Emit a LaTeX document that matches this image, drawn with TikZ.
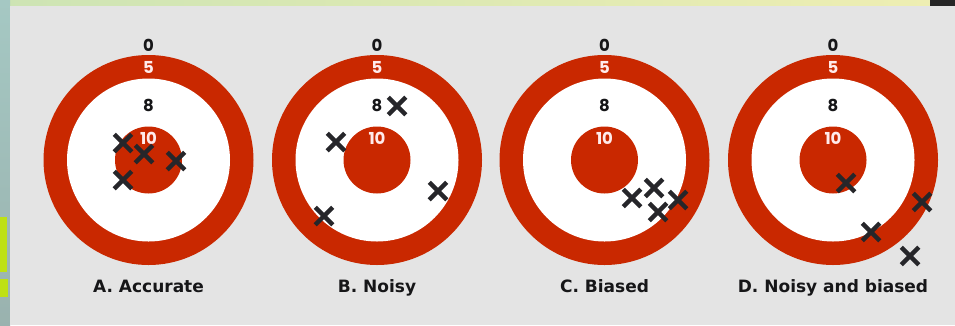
\documentclass[tikz,border=0pt]{standalone}
\usepackage{fontspec}
\setmainfont{Poppins}
\newfontfamily\capfont{DejaVu Sans}
\usetikzlibrary{shapes.misc}
\definecolor{targetred}{RGB}{201,40,0}
\definecolor{panelgray}{RGB}{228,228,228}
\definecolor{hitcol}{RGB}{38,38,42}
\definecolor{inkcol}{RGB}{22,22,24}
\definecolor{leafgreen}{RGB}{205,228,180}
\definecolor{leafyellow}{RGB}{238,238,178}
\definecolor{leafteal}{RGB}{165,200,195}
\definecolor{lime}{RGB}{190,225,20}
\tikzset{
  score/.style = {font=\bfseries\fontsize{16.5}{16.5}\selectfont, inner sep=0pt, text=inkcol},
  caption/.style = {font=\capfont\bfseries\fontsize{17}{17}\selectfont, inner sep=0pt, text=inkcol, anchor=base},
  hit/.style = {cross out, draw=hitcol, line width=4.5pt, minimum size=13pt, inner sep=0pt},
}
\begin{document}
\begin{tikzpicture}[x=1pt, y=-1pt]
\useasboundingbox (0,0) rectangle (955,325);
% background strips and panel
\shade[left color=leafgreen, right color=leafyellow] (0,0) rectangle (930,6);
\fill[black!85] (930,0) rectangle (955,6);
\shade[top color=leafteal, bottom color=leafteal!70!gray] (0,0) rectangle (10,325);
\fill[lime] (0,217) rectangle (7,272);
\fill[lime] (0,279) rectangle (8,297);
\fill[panelgray] (10,6) rectangle (955,325);
% targets
\foreach \t/\cx/\txt in {a/148.5/A. Accurate, b/377/B. Noisy, c/604.5/C. Biased, d/833/D. Noisy and biased}{
  \coordinate (t\t) at (\cx,160);
  \fill[targetred] (t\t) circle (105pt);
  \fill[white] (t\t) circle (81.5pt);
  \fill[targetred] (t\t) circle (33.5pt);
  \node[score] (zero\t) at (\cx,45) {0};
  \node[score, text=white!92!red] (five\t) at (\cx,67) {5};
  \node[score] (eight\t) at (\cx,105) {8};
  \node[score, text=white!92!red] (ten\t) at (\cx,138) {10};
  \node[caption] (cap\t) at (\cx,292) {\txt};
}
% shots
\foreach \x/\y [count=\i] in {123/143, 144/154, 176/161, 123/180,
  397/106, 336/142, 438/191, 324/216,
  632/198, 654/188, 678/200, 658/212,
  846/183, 922/202, 871/232, 910/256}
  \node[hit] (hit\i) at (\x,\y) {};
\end{tikzpicture}
\end{document}
